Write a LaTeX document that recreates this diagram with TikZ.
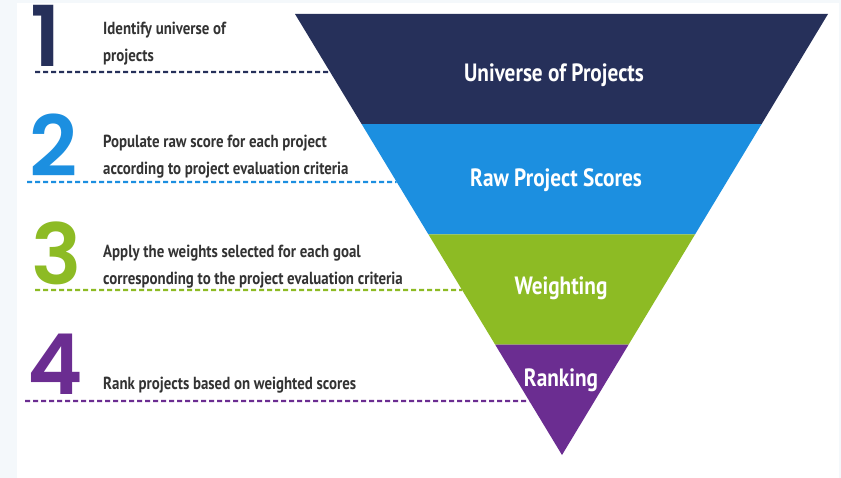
\documentclass[tikz,border=0pt]{standalone}
\usepackage{fontspec}
\usetikzlibrary{calc}
\newfontfamily\stepfont{PT Sans}[FakeStretch=0.85]
\newfontfamily\numfont{Poppins SemiBold}
\definecolor{navy}{HTML}{26305A}
\definecolor{skyblue}{HTML}{1C8FE0}
\definecolor{leafgreen}{HTML}{8DBB24}
\definecolor{plum}{HTML}{6B2D91}
\definecolor{textgray}{HTML}{333333}
\definecolor{pagetint}{HTML}{F4F8FB}
\tikzset{
  bignum/.style={anchor=base west, inner sep=0pt, font=\numfont\fontsize{84}{84}\selectfont},
  stepnote/.style={anchor=base west, inner sep=0pt, align=left, text=textgray, font=\stepfont\bfseries\fontsize{17.5}{27}\selectfont},
  bandlabel/.style={anchor=base, inner sep=0pt, text=white, font=\stepfont\bfseries\fontsize{25}{25}\selectfont},
  guide/.style={line width=2.2pt, dash pattern=on 5pt off 3pt}
}
\begin{document}
\begin{tikzpicture}[x=1pt,y=-1pt]
  \useasboundingbox (0,0) rectangle (841,478);
  \fill [pagetint] (0,0) rectangle (841,478);
  \fill [white] (17,3) rectangle (839,478);

  \coordinate (tl) at (295,14);
  \coordinate (tr) at (828,14);
  \coordinate (apex) at (562,455);

  \coordinate (s1) at (35,72);
  \coordinate (s2) at (27,182);
  \coordinate (s3) at (35,290);
  \coordinate (s4) at (25,401);
  \coordinate (e1) at ($(tl)!0.1315!(apex)$);
  \coordinate (e2) at ($(tl)!0.381!(apex)$);
  \coordinate (e3) at ($(tl)!0.626!(apex)$);
  \coordinate (e4) at ($(tl)!0.8776!(apex)$);

  \draw [guide, navy] (s1) -- (e1);
  \draw [guide, skyblue] (s2) -- (e2);
  \draw [guide, leafgreen] (s3) -- (e3);
  \draw [guide, plum] (s4) -- (e4);

  \fill [navy] (tl) -- (tr) -- ($(tr)!0.25!(apex)$) -- ($(tl)!0.25!(apex)$) -- cycle;
  \fill [skyblue] ($(tl)!0.25!(apex)$) -- ($(tr)!0.25!(apex)$) -- ($(tr)!0.5!(apex)$) -- ($(tl)!0.5!(apex)$) -- cycle;
  \fill [leafgreen] ($(tl)!0.5!(apex)$) -- ($(tr)!0.5!(apex)$) -- ($(tr)!0.75!(apex)$) -- ($(tl)!0.75!(apex)$) -- cycle;
  \fill [plum] ($(tl)!0.75!(apex)$) -- ($(tr)!0.75!(apex)$) -- (apex) -- cycle;

  \node [bandlabel] (universe) at (554,82) {Universe of Projects};
  \node [bandlabel] (raw) at (556,187) {Raw Project Scores};
  \node [bandlabel] (weighting) at (561,295) {Weighting};
  \node [bandlabel] (ranking) at (561,387) {Ranking};

  \node [bignum, navy] (n1) at (30,67) {1};
  \node [bignum, skyblue] (n2) at (29,177) {2};
  \node [bignum, leafgreen] (n3) at (31,285) {3};
  \node [bignum, plum] (n4) at (27,395) {4};

  \node [stepnote] (t1) at (103,62) {Identify universe of\\projects};
  \node [stepnote] (t2) at (103,175) {Populate raw score for each project\\according to project evaluation criteria};
  \node [stepnote] (t3) at (103,285) {Apply the weights selected for each goal\\corresponding to the project evaluation criteria};
  \node [stepnote] (t4) at (103,389) {Rank projects based on weighted scores};
\end{tikzpicture}
\end{document}
